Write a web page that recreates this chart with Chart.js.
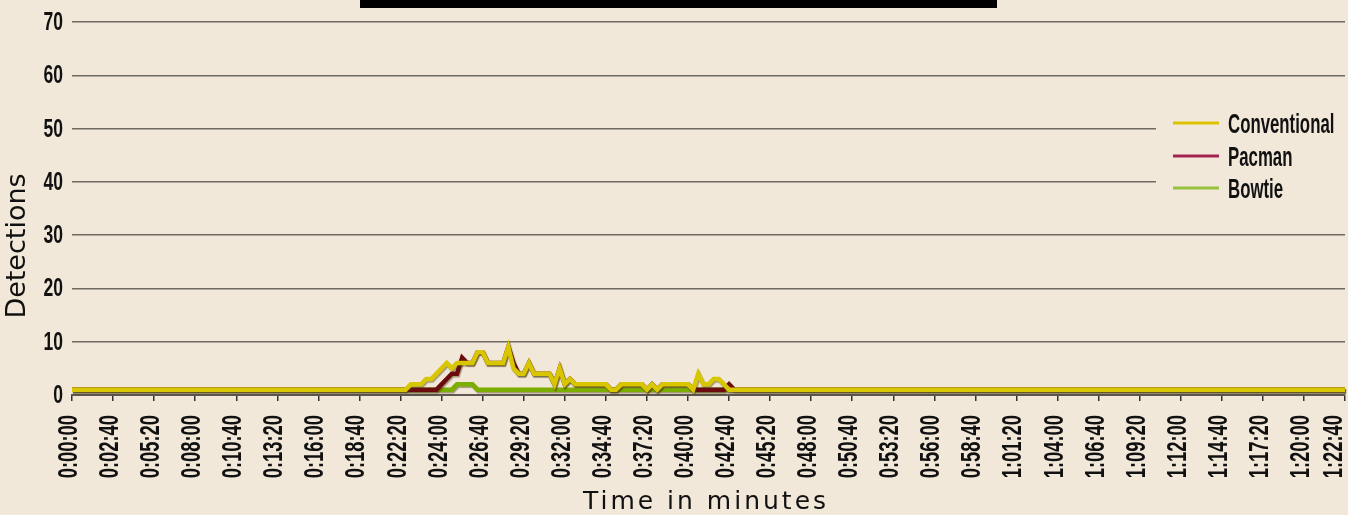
<!DOCTYPE html>
<html>
<head>
<meta charset="utf-8">
<script src="https://cdn.jsdelivr.net/npm/chart.js@4.4.0/dist/chart.umd.min.js"></script>
<style>
  html, body { margin: 0; padding: 0; background: #f2e8d9; }
  #wrap { width: 1348px; height: 515px; position: relative; }
</style>
</head>
<body>
<div id="wrap"><canvas id="chart"></canvas></div>
<script>
// labels shown on the time axis, one every 8 samples
const timeTicks = ['0:00:00', '0:02:40', '0:05:20', '0:08:00', '0:10:40', '0:13:20', '0:16:00', '0:18:40',
  '0:22:20', '0:24:00', '0:26:40', '0:29:20', '0:32:00', '0:34:40', '0:37:20', '0:40:00',
  '0:42:40', '0:45:20', '0:48:00', '0:50:40', '0:53:20', '0:56:00', '0:58:40', '1:01:20',
  '1:04:00', '1:06:40', '1:09:20', '1:12:00', '1:14:40', '1:17:20', '1:20:00', '1:22:40'];

const conventional = [
  1, 1, 1, 1, 1, 1, 1, 1, 1, 1, 1, 1, 1, 1, 1, 1, 1, 1, 1, 1,
  1, 1, 1, 1, 1, 1, 1, 1, 1, 1, 1, 1, 1, 1, 1, 1, 1, 1, 1, 1,
  1, 1, 1, 1, 1, 1, 1, 1, 1, 1, 1, 1, 1, 1, 1, 1, 1, 1, 1, 1,
  1, 1, 1, 1, 1, 1, 2, 2, 2, 3, 3, 4, 5, 6, 5, 6, 6, 6, 6, 8,
  8, 6, 6, 6, 6, 9, 5, 4, 4, 6, 4, 4, 4, 4, 2, 5, 2, 3, 2, 2,
  2, 2, 2, 2, 2, 1, 1, 2, 2, 2, 2, 2, 1, 2, 1, 2, 2, 2, 2, 2,
  2, 1, 4, 2, 2, 3, 3, 2, 1, 1, 1, 1, 1, 1, 1, 1, 1, 1, 1, 1,
  1, 1, 1, 1, 1, 1, 1, 1, 1, 1, 1, 1, 1, 1, 1, 1, 1, 1, 1, 1,
  1, 1, 1, 1, 1, 1, 1, 1, 1, 1, 1, 1, 1, 1, 1, 1, 1, 1, 1, 1,
  1, 1, 1, 1, 1, 1, 1, 1, 1, 1, 1, 1, 1, 1, 1, 1, 1, 1, 1, 1,
  1, 1, 1, 1, 1, 1, 1, 1, 1, 1, 1, 1, 1, 1, 1, 1, 1, 1, 1, 1,
  1, 1, 1, 1, 1, 1, 1, 1, 1, 1, 1, 1, 1, 1, 1, 1, 1, 1, 1, 1,
  1, 1, 1, 1, 1, 1, 1, 1, 1
];

const pacman = [
  1, 1, 1, 1, 1, 1, 1, 1, 1, 1, 1, 1, 1, 1, 1, 1, 1, 1, 1, 1,
  1, 1, 1, 1, 1, 1, 1, 1, 1, 1, 1, 1, 1, 1, 1, 1, 1, 1, 1, 1,
  1, 1, 1, 1, 1, 1, 1, 1, 1, 1, 1, 1, 1, 1, 1, 1, 1, 1, 1, 1,
  1, 1, 1, 1, 1, 1, 1, 1, 1, 1, 1, 1, 2, 3, 4, 4, 7, 6, 6, 8,
  8, 6, 6, 6, 6, 9, 6, 4, 4, 6, 4, 4, 4, 4, 2, 5, 2, 3, 2, 2,
  2, 2, 2, 2, 2, 1, 1, 2, 2, 2, 2, 2, 1, 2, 1, 2, 2, 2, 2, 2,
  2, 1, 1, 1, 1, 1, 1, 1, 2, 1, 1, 1, 1, 1, 1, 1, 1, 1, 1, 1,
  1, 1, 1, 1, 1, 1, 1, 1, 1, 1, 1, 1, 1, 1, 1, 1, 1, 1, 1, 1,
  1, 1, 1, 1, 1, 1, 1, 1, 1, 1, 1, 1, 1, 1, 1, 1, 1, 1, 1, 1,
  1, 1, 1, 1, 1, 1, 1, 1, 1, 1, 1, 1, 1, 1, 1, 1, 1, 1, 1, 1,
  1, 1, 1, 1, 1, 1, 1, 1, 1, 1, 1, 1, 1, 1, 1, 1, 1, 1, 1, 1,
  1, 1, 1, 1, 1, 1, 1, 1, 1, 1, 1, 1, 1, 1, 1, 1, 1, 1, 1, 1,
  1, 1, 1, 1, 1, 1, 1, 1, 1
];

const bowtie = [
  1, 1, 1, 1, 1, 1, 1, 1, 1, 1, 1, 1, 1, 1, 1, 1, 1, 1, 1, 1,
  1, 1, 1, 1, 1, 1, 1, 1, 1, 1, 1, 1, 1, 1, 1, 1, 1, 1, 1, 1,
  1, 1, 1, 1, 1, 1, 1, 1, 1, 1, 1, 1, 1, 1, 1, 1, 1, 1, 1, 1,
  1, 1, 1, 1, 1, 1, 1, 1, 1, 1, 1, 1, 1, 1, 1, 2, 2, 2, 2, 1,
  1, 1, 1, 1, 1, 1, 1, 1, 1, 1, 1, 1, 1, 1, 1, 1, 1, 1, 1, 1,
  1, 1, 1, 1, 1, 1, 1, 1, 1, 1, 1, 1, 1, 1, 1, 1, 1, 1, 1, 1,
  1, 1, 1, 1, 1, 1, 1, 1, 1, 1, 1, 1, 1, 1, 1, 1, 1, 1, 1, 1,
  1, 1, 1, 1, 1, 1, 1, 1, 1, 1, 1, 1, 1, 1, 1, 1, 1, 1, 1, 1,
  1, 1, 1, 1, 1, 1, 1, 1, 1, 1, 1, 1, 1, 1, 1, 1, 1, 1, 1, 1,
  1, 1, 1, 1, 1, 1, 1, 1, 1, 1, 1, 1, 1, 1, 1, 1, 1, 1, 1, 1,
  1, 1, 1, 1, 1, 1, 1, 1, 1, 1, 1, 1, 1, 1, 1, 1, 1, 1, 1, 1,
  1, 1, 1, 1, 1, 1, 1, 1, 1, 1, 1, 1, 1, 1, 1, 1, 1, 1, 1, 1,
  1, 1, 1, 1, 1, 1, 1, 1, 1
];

const seriesNames = ['Conventional', 'Pacman', 'Bowtie'];
const lineColors = ['#d8c600', '#6b0b0e', '#7cae00'];
const legendColors = ['#dcc200', '#a32350', '#96c23e'];

const bg = '#f2e8d9';
const labelFont = "'Liberation Sans', Arial, sans-serif";

const labels = conventional.map((v, i) => (i % 8 === 0 ? timeTicks[i / 8] : ''));

// the reference uses a very condensed face, so labels are drawn squeezed
function squeezed(ctx, text, x, y, size, sx, align, angle) {
  ctx.save();
  ctx.translate(x, y);
  if (angle) ctx.rotate(angle);
  ctx.scale(sx, 1);
  ctx.font = 'bold ' + size + 'px ' + labelFont;
  ctx.fillStyle = '#111';
  ctx.textAlign = align;
  ctx.textBaseline = 'alphabetic';
  ctx.fillText(text, 0, 0);
  ctx.restore();
}

// background, line shadows, labels, legend, axis titles
const decor = {
  id: 'decor',
  beforeDraw(chart) {
    const ctx = chart.ctx;
    ctx.save();
    ctx.fillStyle = bg;
    ctx.fillRect(0, 0, chart.width, chart.height);
    ctx.restore();
  },
  beforeDatasetsDraw(chart) {
    const ctx = chart.ctx;
    ctx.save();
    ctx.shadowColor = 'rgba(70,55,0,0.45)';
    ctx.shadowOffsetX = 1;
    ctx.shadowOffsetY = 1.5;
    ctx.shadowBlur = 1;
  },
  afterDatasetsDraw(chart) {
    chart.ctx.restore();
  },
  afterDraw(chart) {
    const ctx = chart.ctx;
    const xs = chart.scales.x;
    const ys = chart.scales.y;

    // y tick labels
    ys.ticks.forEach(t => {
      squeezed(ctx, String(t.value), 63, ys.getPixelForValue(t.value) + 8, 25, 0.7, 'right', 0);
    });
    // x tick labels, rotated to read upwards
    labels.forEach((l, i) => {
      if (l === '') return;
      const px = Math.min(xs.getPixelForValue(i) + 5, chart.width - 6);
      squeezed(ctx, l, px, 415, 27, 0.68, 'right', -Math.PI / 2);
    });

    ctx.save();
    // cropped title bar at the top
    ctx.fillStyle = '#000';
    ctx.fillRect(360, 0, 637, 8);

    // legend box over the grid
    ctx.fillStyle = bg;
    ctx.fillRect(1156, 108, 192, 100);
    const legendY = [123, 156, 188];
    seriesNames.forEach((name, k) => {
      const y = legendY[k];
      ctx.strokeStyle = legendColors[k];
      ctx.lineWidth = 3;
      ctx.beginPath();
      ctx.moveTo(1173, y);
      ctx.lineTo(1219, y);
      ctx.stroke();
      squeezed(ctx, name, 1228, y + 10, 28, 0.6, 'left', 0);
    });

    // axis titles
    ctx.fillStyle = '#111';
    ctx.textAlign = 'center';
    ctx.textBaseline = 'middle';
    ctx.font = "27px 'DejaVu Sans', sans-serif";
    ctx.translate(18, 246);
    ctx.rotate(-Math.PI / 2);
    ctx.fillText('Detections', 0, 0);
    ctx.setTransform(1, 0, 0, 1, 0, 0);
    ctx.font = "25px 'DejaVu Sans', sans-serif";
    ctx.letterSpacing = '3px';
    ctx.fillText('Time in minutes', 706, 502);
    ctx.restore();
  }
};

new Chart(document.getElementById('chart'), {
  type: 'line',
  data: {
    labels: labels,
    datasets: [conventional, pacman, bowtie].map((d, k) => ({
      label: seriesNames[k],
      data: d,
      borderColor: lineColors[k],
      backgroundColor: lineColors[k],
      borderWidth: 4.5,
      borderJoinStyle: 'miter',
      pointRadius: 0,
      tension: 0,
      fill: false
    }))
  },
  options: {
    responsive: true,
    maintainAspectRatio: false,
    animation: false,
    layout: { padding: { top: 22, right: 3, bottom: 0, left: 0 } },
    plugins: {
      legend: { display: false },
      tooltip: { enabled: false }
    },
    scales: {
      x: {
        type: 'category',
        offset: false,
        grid: { drawOnChartArea: false, drawTicks: true, tickLength: 6, color: '#333', lineWidth: 1.5 },
        border: { display: true, color: '#5c5850', width: 2 },
        ticks: {
          autoSkip: false,
          minRotation: 90,
          maxRotation: 90,
          padding: 12,
          color: 'rgba(0,0,0,0)',
          font: { family: labelFont, size: 12 },
          callback: function (value) {
            const l = this.getLabelForValue(value);
            return l === '' ? null : l;
          }
        },
        afterFit(scale) {
          scale.height = 120;
          scale.paddingLeft = 0;
          scale.paddingRight = 0;
        }
      },
      y: {
        min: 0,
        max: 70,
        grid: { color: '#6e6a62', lineWidth: 1.5, drawTicks: false },
        border: { display: false },
        ticks: {
          stepSize: 10,
          padding: 9,
          color: 'rgba(0,0,0,0)',
          font: { family: labelFont, size: 12 }
        },
        afterFit(scale) {
          scale.width = 72;
        }
      }
    }
  },
  plugins: [decor]
});
</script>
</body>
</html>
